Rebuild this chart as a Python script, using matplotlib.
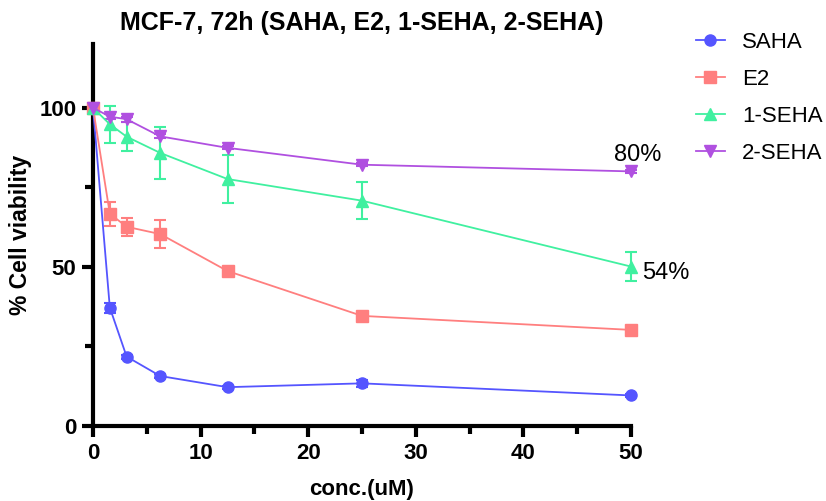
import matplotlib.pyplot as plt
from matplotlib.lines import Line2D
from matplotlib.ticker import MultipleLocator

plt.rcParams['font.family'] = ['Liberation Sans', 'DejaVu Sans']

conc = [0, 1.5625, 3.125, 6.25, 12.5, 25, 50]

saha = [100, 37.2, 21.8, 15.7, 12.2, 13.4, 9.6]
saha_err = [0, 1.6, 0.6, 0.6, 0.5, 1.0, 0.5]
e2 = [100, 66.7, 62.6, 60.3, 48.7, 34.6, 30.2]
e2_err = [0, 3.8, 2.9, 4.5, 0.6, 0.8, 0.5]
seha1 = [100, 94.8, 90.9, 85.8, 77.6, 70.8, 50.1]
seha1_err = [0, 5.8, 4.6, 8.2, 7.4, 5.9, 4.5]
seha2 = [100, 97.2, 96.4, 91.0, 87.4, 82.1, 80.0]
seha2_err = [0, 0.8, 0.8, 0.6, 0.5, 0.5, 0.5]

series = [
    ("SAHA", saha, saha_err, "#5555FF", "o", 8),
    ("E2", e2, e2_err, "#FF7F7F", "s", 8),
    ("1-SEHA", seha1, seha1_err, "#40F0A0", "^", 9),
    ("2-SEHA", seha2, seha2_err, "#B050E0", "v", 9),
]

fig = plt.figure(figsize=(8.26, 5.01), dpi=100)
ax = fig.add_axes((0.1126, 0.1497, 0.6513, 0.7623))

handles = []
for label, y, err, color, marker, ms in series:
    ax.errorbar(conc, y, yerr=err, color=color, marker=marker, markersize=ms,
                linewidth=1.3, elinewidth=1.5, capsize=4, capthick=1.5,
                clip_on=False, zorder=3)
    handles.append(Line2D([], [], color=color, marker=marker, markersize=ms,
                          linewidth=1.3, label=label))

ax.set_xlim(0, 50)
ax.set_ylim(0, 120)
ax.xaxis.set_major_locator(MultipleLocator(10))
ax.xaxis.set_minor_locator(MultipleLocator(5))
ax.set_yticks([0, 50, 100])
ax.set_yticks([25, 75], minor=True)

for side in ("top", "right"):
    ax.spines[side].set_visible(False)
for side in ("left", "bottom"):
    ax.spines[side].set_linewidth(3)
ax.tick_params(which="major", length=8, width=3, labelsize=16, pad=4)
ax.tick_params(which="minor", length=6, width=3)
for lbl in ax.get_xticklabels() + ax.get_yticklabels():
    lbl.set_fontweight("bold")

ax.set_xlabel("conc.(uM)", fontsize=16, fontweight="bold", labelpad=11)
ax.set_ylabel("% Cell viability", fontsize=16.5, fontweight="bold", labelpad=5)
ax.set_title("MCF-7, 72h (SAHA, E2, 1-SEHA, 2-SEHA)", fontsize=18, fontweight="bold", pad=10)

ax.text(50.6, 81.8, "80%", fontsize=17, ha="center", va="bottom")
ax.text(51, 48, "54%", fontsize=17, ha="left", va="center")

ax.legend(handles=handles, loc="upper left", bbox_to_anchor=(1.083, 1.085), frameon=False,
          fontsize=16, handlelength=1.3, labelspacing=0.72, handletextpad=0.8)

fig.savefig("out.png", dpi=100)
